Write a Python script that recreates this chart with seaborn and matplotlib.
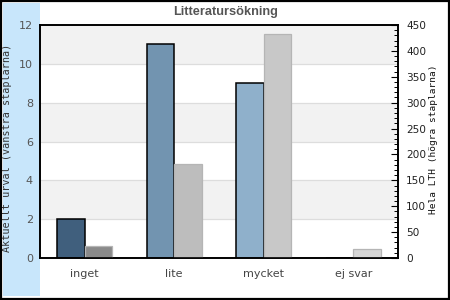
import matplotlib
matplotlib.use("Agg")
import matplotlib.pyplot as plt
import seaborn as sns
import pandas as pd
from matplotlib.patches import Rectangle
from matplotlib.ticker import MultipleLocator

categories = ["inget", "lite", "mycket", "ej svar"]
left_values = [2, 11, 9, 0]          # Aktuellt urval
right_values = [23, 182, 432, 17]    # Hela LTH
left_colors = ["#405f7d", "#7294b0", "#8fb0cb", "#a9c4da"]
right_colors = ["#8a8a8a", "#bdbdbd", "#c8c8c8", "#d6d6d6"]
series = ["vänster", "höger"]
title = "Litteratursökning"
left_label = "Aktuellt urval (vänstra staplarna)"
right_label = "Hela LTH (högra staplarna)"

df_left = pd.DataFrame({"kategori": categories, "värde": left_values, "serie": series[0]})
df_right = pd.DataFrame({"kategori": categories, "värde": right_values, "serie": series[1]})

sns.set_theme(style="white")
plt.rcParams["font.family"] = ["DejaVu Sans"]

fig = plt.figure(figsize=(4.5, 3.0), dpi=100)
fig.patch.set_facecolor("white")

# light blue band at the left and figure border
fig.patches.append(Rectangle((3 / 450, 4 / 300), 37 / 450, 293 / 300, transform=fig.transFigure,
                             facecolor="#c8e6fb", edgecolor="none", zorder=-5))
fig.patches.append(Rectangle((0.002, 0.003), 0.996, 0.994, transform=fig.transFigure,
                             facecolor="none", edgecolor="black", linewidth=1.6, zorder=5))

ax = fig.add_axes([40 / 450, 42 / 300, 358 / 450, 233 / 300])
ax.set_facecolor("white")
ax2 = ax.twinx()

sns.barplot(data=df_left, x="kategori", y="värde", hue="serie", hue_order=series,
            dodge=True, width=0.615, gap=0, ax=ax, legend=False)
sns.barplot(data=df_right, x="kategori", y="värde", hue="serie", hue_order=series,
            dodge=True, width=0.615, gap=0, ax=ax2, legend=False)

for p, c in zip(sorted(ax.patches, key=lambda r: r.get_x()), left_colors):
    p.set_facecolor(c)
    p.set_edgecolor("black")
    p.set_linewidth(1.1)
    p.set_zorder(3)
for p, c in zip(sorted(ax2.patches, key=lambda r: r.get_x()), right_colors):
    p.set_facecolor(c)
    p.set_edgecolor("#b5b5b5")
    p.set_linewidth(0.9)

ax.set_ylim(0, 12)
ax2.set_ylim(0, 450)
ax.set_xlim(-0.5, 3.5)

# background bands and grid
for lo in (2, 6, 10):
    ax.axhspan(lo, lo + 2, color="#f2f2f2", zorder=0, linewidth=0)
for y in (2, 4, 6, 8, 10):
    ax.axhline(y, color="#dddddd", linewidth=0.9, zorder=1)

ax.set_yticks([0, 2, 4, 6, 8, 10, 12])
ax.tick_params(axis="y", left=False, labelleft=True, length=0, pad=5, labelsize=8,
               labelcolor="#555555")
ax.tick_params(axis="x", bottom=False, length=0, pad=8, labelsize=8, labelcolor="#444444")
ax.set_xlabel("")
ax.set_ylabel("")
ax2.set_xlabel("")
ax2.set_ylabel("")

ax2.yaxis.set_major_locator(MultipleLocator(50))
ax2.yaxis.set_minor_locator(MultipleLocator(10))
ax2.tick_params(axis="y", which="major", right=True, direction="in", length=5, width=0.8,
                pad=6, labelsize=7.6, labelcolor="#222222", color="black")
ax2.tick_params(axis="y", which="minor", right=True, direction="in", length=3, width=0.7,
                color="black")

for a in (ax, ax2):
    for s in a.spines.values():
        s.set_visible(True)
        s.set_color("black")
        s.set_linewidth(1.2)

fig.text(7.5 / 450, 1 - 147.5 / 300, left_label, rotation=90, ha="center", va="center",
         family="DejaVu Sans Mono", fontsize=7.3, color="#333333")
fig.text(434 / 450, 1 - 139 / 300, right_label, rotation=90, ha="center", va="center",
         family="DejaVu Sans Mono", fontsize=6.8, color="#111111")
fig.text(226 / 450, 1 - 12 / 300, title, ha="center", va="center",
         family="Liberation Sans", fontweight="bold", fontsize=9.2, color="#555555")

fig.savefig("out.png", dpi=100)
